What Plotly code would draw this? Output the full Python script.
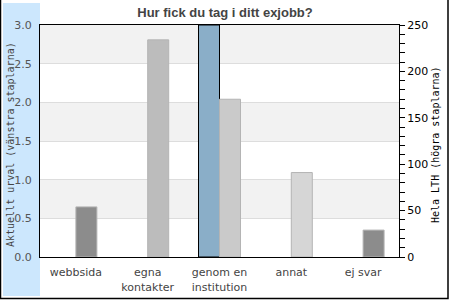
import plotly.graph_objects as go

categories = ["webbsida", "egna<br>kontakter", "genom en<br>institution", "annat", "ej svar"]
current_selection = [0, 0, 3.0, 0, 0]
whole_lth = [54, 234, 170, 91, 29]
lth_colors = ["#8c8c8c", "#bcbcbc", "#cacaca", "#d6d6d6", "#8c8c8c"]

left_ticks = [0, 0.5, 1.0, 1.5, 2.0, 2.5, 3.0]
right_ticks = [0, 50, 100, 150, 200, 250]

fig = go.Figure()
fig.add_trace(go.Bar(
    x=categories, y=current_selection, yaxis="y",
    offsetgroup="a", alignmentgroup="g",
    marker=dict(color="#8aaec8",
                line=dict(color="#000000", width=[1 if v > 0 else 0 for v in current_selection])),
    hoverinfo="skip", showlegend=False,
))
fig.add_trace(go.Bar(
    x=categories, y=whole_lth, yaxis="y2",
    offsetgroup="b", alignmentgroup="g",
    marker=dict(color=lth_colors, line=dict(color="#b4b4b4", width=1)),
    hoverinfo="skip", showlegend=False,
))

L, R, T, B = 40, 51, 25, 43
W, H = 450, 300
pw, ph = W - L - R, H - T - B

def px(x):
    return (x - L) / pw

def py(y):
    return (H - B - y) / ph

shapes = []
# left light blue band
shapes.append(dict(type="rect", xref="paper", yref="paper",
                   x0=px(3), x1=px(40), y0=py(296), y1=py(3),
                   fillcolor="#cce7fd", line=dict(width=0), layer="below"))
# outer border
shapes.append(dict(type="rect", xref="paper", yref="paper",
                   x0=px(0.5), x1=px(448), y0=py(298.5), y1=py(-3),
                   fillcolor="rgba(0,0,0,0)", line=dict(color="#000000", width=1.5), layer="above"))
# alternating bands
for lo, hi in [(0.5, 1.0), (1.5, 2.0), (2.5, 3.0)]:
    shapes.append(dict(type="rect", xref="paper", yref="y", x0=0, x1=1, y0=lo, y1=hi,
                       fillcolor="#f2f2f2", line=dict(width=0), layer="below"))

fig.update_layout(
    width=W, height=H,
    margin=dict(l=L, r=R, t=T, b=B, pad=0, autoexpand=False),
    paper_bgcolor="white", plot_bgcolor="white",
    barmode="group", bargap=0.415, bargroupgap=0,
    font=dict(family="DejaVu Sans", size=11, color="#444444"),
    title=dict(text="<b>Hur fick du tag i ditt exjobb?</b>", x=0.5, xanchor="center",
               y=1 - 12 / H, yanchor="middle",
               font=dict(family="Liberation Sans, Arial", size=13, color="#444444")),
    xaxis=dict(showline=True, mirror=True, linecolor="#000000", linewidth=1,
               showgrid=False, ticks="", ticklabelstandoff=5, automargin=False,
               tickfont=dict(size=11, color="#444444"),
               range=[-0.5, 4.5], fixedrange=True),
    yaxis=dict(range=[0, 3.0], tickvals=left_ticks, ticktext=[f"{v:.1f}" for v in left_ticks],
               showline=True, mirror=True, linecolor="#000000", linewidth=1,
               showgrid=True, gridcolor="#dddddd", gridwidth=1, zeroline=False,
               ticks="", ticklabelstandoff=5, automargin=False,
               tickfont=dict(size=11, color="#555555")),
    yaxis2=dict(range=[0, 250], overlaying="y", side="right", tickvals=right_ticks,
                showgrid=False, zeroline=False, showline=False, automargin=False,
                ticks="outside", ticklen=5, tickcolor="#000000", tickwidth=1,
                minor=dict(dtick=10, ticks="outside", ticklen=5, tickcolor="#000000", showgrid=False),
                tickfont=dict(size=11, color="#000000")),
    shapes=shapes,
    annotations=[
        dict(text="Aktuellt urval (vänstra staplarna)", xref="paper", yref="paper",
             x=px(10), y=py(145), textangle=-90, showarrow=False,
             font=dict(family="DejaVu Sans Mono", size=10, color="#444444"),
             xanchor="center", yanchor="middle"),
        dict(text="Hela LTH (högra staplarna)", xref="paper", yref="paper",
             x=px(435), y=py(145), textangle=-90, showarrow=False,
             font=dict(family="DejaVu Sans Mono", size=10, color="#000000"),
             xanchor="center", yanchor="middle"),
    ],
)

fig.write_html("out.html")
